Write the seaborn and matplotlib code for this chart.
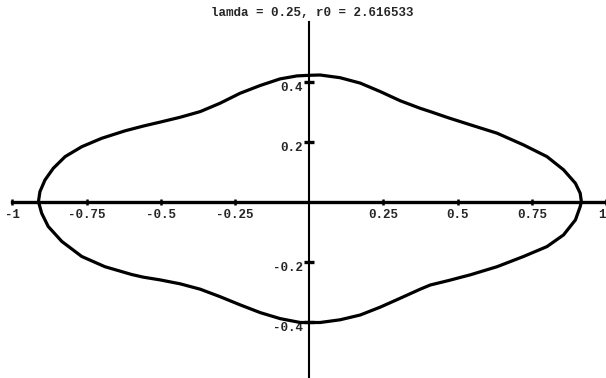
import matplotlib
matplotlib.use("Agg")
import matplotlib.pyplot as plt
import seaborn as sns
import pandas as pd

# closed curve: left tip -> top -> right tip -> bottom -> left tip
curve_x = [-0.912, -0.907, -0.890, -0.862, -0.822, -0.766, -0.699, -0.620, -0.558,
           -0.502, -0.435, -0.367, -0.300, -0.233, -0.165, -0.098, -0.041, 0.000,
           0.037, 0.104, 0.172, 0.239, 0.307, 0.374, 0.408, 0.470, 0.543, 0.633,
           0.722, 0.801, 0.857, 0.897, 0.913, 0.917,
           0.913, 0.897, 0.857, 0.801, 0.722, 0.633, 0.543, 0.470, 0.408, 0.374,
           0.307, 0.239, 0.172, 0.104, 0.037, -0.030, -0.098, -0.165, -0.233,
           -0.300, -0.367, -0.435, -0.502, -0.558, -0.598, -0.688, -0.766, -0.833,
           -0.879, -0.901, -0.912]
curve_y = [0.000, 0.033, 0.072, 0.111, 0.150, 0.183, 0.211, 0.236, 0.252,
           0.265, 0.281, 0.300, 0.328, 0.361, 0.387, 0.409, 0.419, 0.421,
           0.422, 0.413, 0.395, 0.367, 0.336, 0.311, 0.300, 0.279, 0.256, 0.228,
           0.189, 0.150, 0.106, 0.061, 0.028, 0.000,
           -0.017, -0.061, -0.111, -0.150, -0.183, -0.217, -0.244, -0.263, -0.278, -0.292,
           -0.322, -0.352, -0.378, -0.394, -0.403, -0.403, -0.390, -0.370, -0.344,
           -0.317, -0.292, -0.274, -0.261, -0.252, -0.243, -0.217, -0.183, -0.133,
           -0.083, -0.039, 0.000]

x_ticks = [-1, -0.75, -0.5, -0.25, 0.25, 0.5, 0.75, 1]
x_labels = ["-1", "-0.75", "-0.5", "-0.25", "0.25", "0.5", "0.75", "1"]
y_ticks = [-0.4, -0.2, 0.2, 0.4]
y_labels = ["-0.4", "-0.2", "0.2", "0.4"]

title = "lamda = 0.25, r0 = 2.616533"

sns.set_style("white")
plt.rcParams["font.family"] = ["Liberation Mono", "DejaVu Sans Mono"]
plt.rcParams["axes.unicode_minus"] = False

df = pd.DataFrame({"x": curve_x, "y": curve_y})

fig = plt.figure(figsize=(6.06, 3.78), dpi=100)
ax = fig.add_axes([0, 0, 1, 1])
ax.set_facecolor("white")

sns.lineplot(data=df, x="x", y="y", sort=False, estimator=None, color="black",
             linewidth=2.3, solid_joinstyle="round", solid_capstyle="round", ax=ax)

ax.set_xlim(-1.0415, 1.0)
ax.set_ylim(-0.588, 0.672)

for side in ["top", "right"]:
    ax.spines[side].set_visible(False)
ax.spines["bottom"].set_position("zero")
ax.spines["left"].set_position("zero")
ax.spines["bottom"].set_bounds(-1, 1)
ax.spines["left"].set_bounds(-0.59, 0.6)
ax.spines["bottom"].set_linewidth(2.4)
ax.spines["left"].set_linewidth(1.5)
ax.spines["bottom"].set_color("black")
ax.spines["left"].set_color("black")

ax.set_xticks(x_ticks)
ax.set_xticklabels(x_labels, fontsize=9, fontweight="bold")
ax.set_yticks(y_ticks)
ax.set_yticklabels(y_labels, fontsize=9, fontweight="bold")
ax.tick_params(axis="x", bottom=True, direction="inout", length=5, width=1.8,
               color="black", pad=3)
ax.tick_params(axis="y", left=True, direction="inout", length=7, width=2.4,
               color="black", pad=1)
for lab in ax.get_yticklabels():
    lab.set_va("top")
ax.get_xticklabels()[-1].set_ha("right")

ax.set_xlabel("")
ax.set_ylabel("")

fig.text(0.515, 0.966, title, ha="center", va="center", fontsize=9, fontweight="bold")

fig.savefig("out.png", dpi=100, facecolor="white")
